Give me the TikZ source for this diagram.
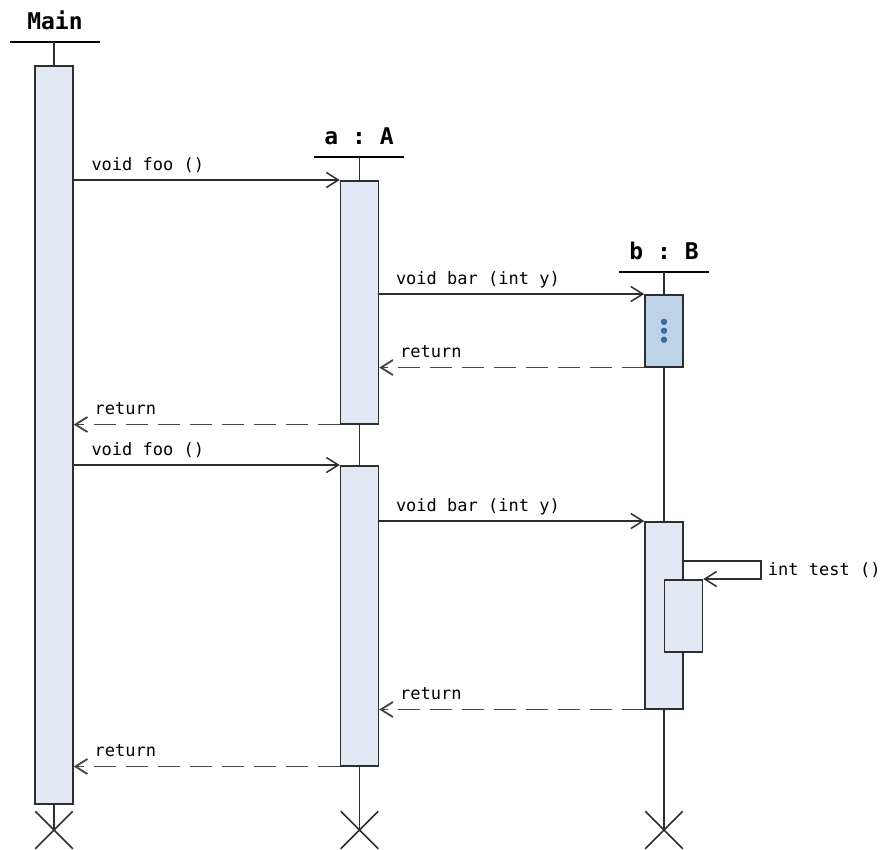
\documentclass[tikz,border=0pt]{standalone}
\usepackage{fontspec}
\setmonofont{DejaVu Sans Mono}
\usepackage{tikz}
\usetikzlibrary{arrows.meta,positioning,calc,shapes.misc}
\usepackage{xcolor}
\definecolor{ink}{HTML}{2E2E2E}
\definecolor{dashink}{HTML}{444444}
\definecolor{actfill}{HTML}{E1E9F4}
\definecolor{busyfill}{HTML}{BDD3E8}
\definecolor{dotblue}{HTML}{3D6D9E}
\tikzset{
  head/.style={font=\ttfamily\bfseries\fontsize{23}{26}\selectfont,minimum width=90pt,
    inner xsep=0pt,inner ysep=1pt,text depth=11pt,anchor=south},
  headbar/.style={draw=black,line width=2pt},
  act/.style={draw=ink,fill=actfill,line width=1.5pt,minimum width=38pt,
    inner sep=0pt,anchor=north},
  busy/.style={act,fill=busyfill},
  life/.style={draw=ink,line width=1.5pt},
  cross/.style={draw=ink,line width=1.5pt,cross out,minimum size=36pt,inner sep=0pt},
  call/.style={-{Straight Barb[length=12pt,width=15pt]},draw=ink,line width=1.5pt},
  reply/.style={-{Straight Barb[length=12pt,width=15pt]},draw=dashink,line width=1.8pt,
    dash pattern=on 22pt off 10pt},
  labelstyle/.style={font=\ttfamily\fontsize{17}{20}\selectfont,inner sep=0pt,
    anchor=base west,text=black}
}
\begin{document}
\begin{tikzpicture}[x=1pt,y=-1pt]
  \useasboundingbox (0,0) rectangle (883,849);
  % heads
  \node[head] (hm) at (55,42) {Main};
  \node[head] (ha) at (359,157) {a : A};
  \node[head] (hb) at (664,272) {b : B};
  \foreach \h in {hm,ha,hb}
    \draw[headbar] (\h.south west) -- (\h.south east);
  % activations
  \node[act,minimum height=738pt] (m) at (54,65) {};
  \node[act,minimum height=243pt] (a1) at (359.5,180) {};
  \node[act,minimum height=300pt] (a2) at (359.5,465) {};
  \node[busy,minimum height=72pt] (b1) at (664,294) {};
  \node[act,minimum height=187pt] (b2) at (664,521) {};
  % ends
  \node[cross] (xm) at (54,830) {};
  \node[cross] (xa) at (359.5,830) {};
  \node[cross] (xb) at (664,830) {};
  % lifelines
  \draw[life] (m.north |- hm.south) -- (m.north);
  \draw[life] (m.south) -- (xm.center);
  \draw[life] (a1.north |- ha.south) -- (a1.north);
  \draw[life] (a1.south) -- (a2.north);
  \draw[life] (a2.south) -- (xa.center);
  \draw[life] (b1.north |- hb.south) -- (b1.north);
  \draw[life] (b1.south) -- (b2.north);
  \draw[life] (b2.south) -- (xb.center);
  \node[act,minimum height=72pt] (b3) at (683.5,579) {};
  \foreach \d in {-9,0,9}
    \fill[dotblue] ([yshift=\d pt]b1.center) circle (3.2pt);
  % first round
  \draw[call] (m.east |- a1.north) -- (a1.north west)
    node[labelstyle,pos=0,xshift=17pt,yshift=10pt] {void foo ()};
  \draw[call] (a1.east |- b1.north) -- (b1.north west)
    node[labelstyle,pos=0,xshift=16pt,yshift=10pt] {void bar (int y)};
  \draw[reply] (b1.south west) -- (a1.east |- b1.south)
    node[labelstyle,pos=1,xshift=20pt,yshift=10pt] {return};
  \draw[reply] (a1.south west) -- (m.east |- a1.south)
    node[labelstyle,pos=1,xshift=20pt,yshift=10pt] {return};
  % second round
  \draw[call] (m.east |- a2.north) -- (a2.north west)
    node[labelstyle,pos=0,xshift=17pt,yshift=10pt] {void foo ()};
  \draw[call] (a2.east |- b2.north) -- (b2.north west)
    node[labelstyle,pos=0,xshift=16pt,yshift=10pt] {void bar (int y)};
  \draw[call] ([yshift=18pt]b3.north -| b2.east) -- ++(77,0) coordinate (t)
    -- (t |- b3.north) -- (b3.north east);
  \node[labelstyle] (tl) at ([xshift=7pt,yshift=-14pt]t) {int test ()};
  \draw[reply] (b2.south west) -- (a2.east |- b2.south)
    node[labelstyle,pos=1,xshift=20pt,yshift=10pt] {return};
  \draw[reply] (a2.south west) -- (m.east |- a2.south)
    node[labelstyle,pos=1,xshift=20pt,yshift=10pt] {return};
\end{tikzpicture}
\end{document}
